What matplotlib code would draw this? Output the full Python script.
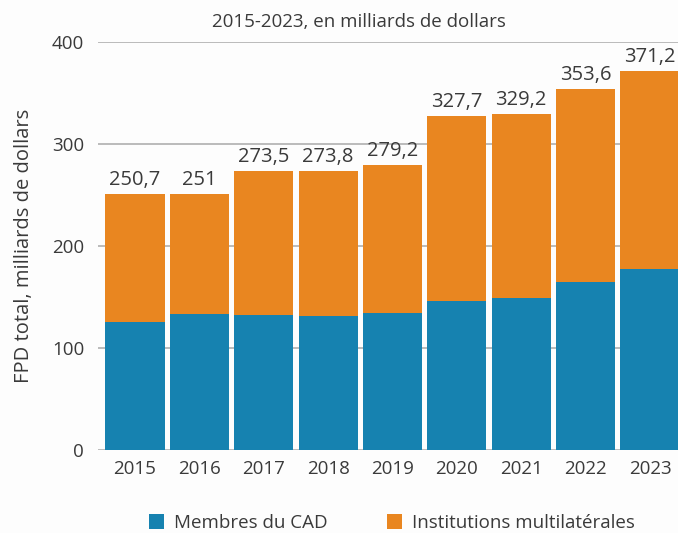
import matplotlib.pyplot as plt
import numpy as np

# ===== Données =====
years = ["2015", "2016", "2017", "2018", "2019", "2020", "2021", "2022", "2023"]
totals = [250.7, 251.0, 273.5, 273.8, 279.2, 327.7, 329.2, 353.6, 371.2]
total_labels = ["250,7", "251", "273,5", "273,8", "279,2", "327,7", "329,2", "353,6", "371,2"]
cad = [125.8, 133.6, 132.4, 131.4, 134.3, 146.1, 149.0, 164.7, 177.5]
multi = [t - c for t, c in zip(totals, cad)]

BLUE = "#1682B0"
ORANGE = "#E98620"
TXT = "#3a3a3a"

plt.rcParams['font.family'] = ['Open Sans', 'DejaVu Sans']

fig = plt.figure(figsize=(6.78, 5.33), dpi=100)
fig.patch.set_facecolor("#fdfdfd")
ax = fig.add_axes([0.1445, 0.156, 0.8555, 0.765])
ax.set_facecolor("#fdfdfd")

x = np.arange(len(years))
w = 0.92
ax.bar(x, cad, width=w, color=BLUE, label="Membres du CAD", zorder=3)
ax.bar(x, multi, width=w, bottom=cad, color=ORANGE, label="Institutions multilatérales", zorder=3)

for xi, t, lab in zip(x, totals, total_labels):
    ax.text(xi, t + 4, lab, ha="center", va="bottom", fontsize=14.5, color=TXT, clip_on=False)

ax.set_xlim(-0.575, 8.435)
ax.set_ylim(0, 400)
ax.set_yticks([0, 100, 200, 300, 400])
ax.set_xticks(x)
ax.set_xticklabels(years)
ax.tick_params(axis="both", length=0, labelsize=13.5, labelcolor=TXT)
ax.tick_params(axis="y", pad=10)
ax.tick_params(axis="x", pad=7)
ax.grid(axis="y", color="#b0b0b0", linewidth=1.2, zorder=0)
for s in ax.spines.values():
    s.set_visible(False)

ax.set_ylabel("FPD total, milliards de dollars", fontsize=14.5, color=TXT, labelpad=13)
fig.text(0.530, 0.958, "2015-2023, en milliards de dollars", ha="center", va="center",
         fontsize=13.5, color=TXT)

fig.legend(loc="center", bbox_to_anchor=(0.578, 0.019), ncol=2, frameon=False,
           fontsize=13.5, handlelength=0.8, handleheight=0.8, columnspacing=3.2,
           handletextpad=0.5, labelcolor=TXT)

plt.savefig("out.png", dpi=100, facecolor=fig.get_facecolor())
plt.close()
